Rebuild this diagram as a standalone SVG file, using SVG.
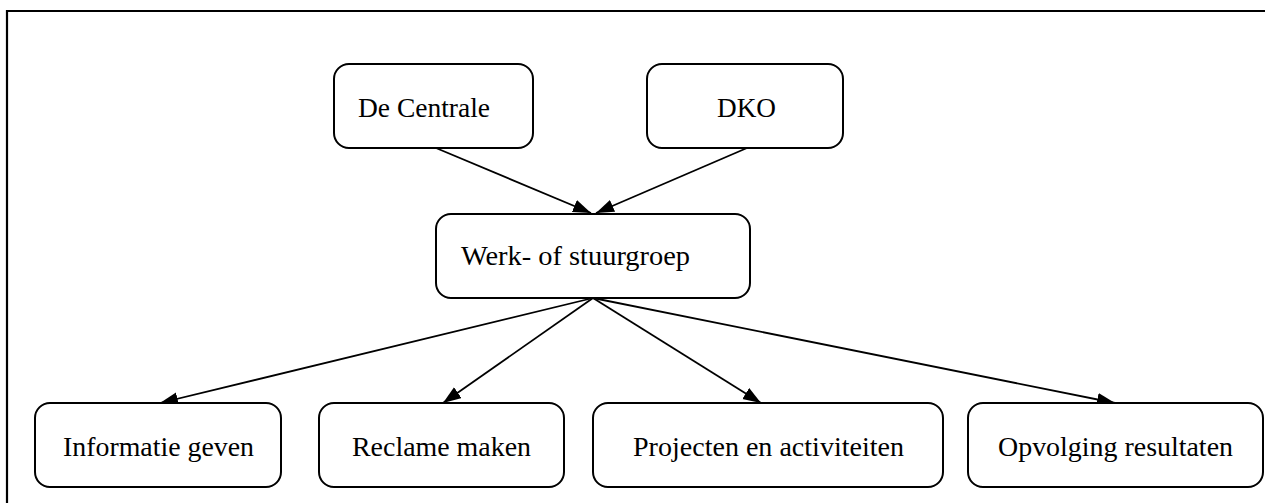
<svg xmlns="http://www.w3.org/2000/svg" width="1265" height="503" viewBox="0 0 1265 503">
<style>
.box{fill:#fff;stroke:#000;stroke-width:2}
.lbl{font-size:27px;fill:#000}
.edge{stroke:#000;stroke-width:1.8;fill:none;marker-end:url(#ah)}
</style>
<defs>
<marker id="ah" markerUnits="userSpaceOnUse" markerWidth="20" markerHeight="14" refX="18" refY="6.5" orient="auto">
<path d="M0,0 L18,6.5 L0,13 z" fill="#000"/>
</marker>
</defs>
<rect width="1265" height="503" fill="#fff"/>
<path d="M7,503 V11 H1265" fill="none" stroke="#000" stroke-width="2.2"/>
<g id="connectors">
<line class="edge" x1="436" y1="148" x2="591" y2="213"/>
<line class="edge" x1="747" y1="148" x2="596" y2="213"/>
<line class="edge" x1="593" y1="298" x2="160" y2="403"/>
<line class="edge" x1="593" y1="298" x2="443" y2="403"/>
<line class="edge" x1="593" y1="298" x2="761" y2="403"/>
<line class="edge" x1="593" y1="298" x2="1115" y2="403"/>
</g>
<g font-family="'Liberation Serif', 'DejaVu Serif', serif">
<g id="node-decentrale">
<rect class="box" x="334" y="64" width="199" height="84" rx="15"/>
<text class="lbl" x="358" y="117" textLength="132" lengthAdjust="spacingAndGlyphs">De Centrale</text>
</g>
<g id="node-dko">
<rect class="box" x="647" y="64" width="196" height="84" rx="15"/>
<text class="lbl" x="717" y="117" textLength="59" lengthAdjust="spacingAndGlyphs">DKO</text>
</g>
<g id="node-werkgroep">
<rect class="box" x="436" y="214" width="314" height="84" rx="15"/>
<text class="lbl" x="461" y="265" textLength="229" lengthAdjust="spacingAndGlyphs">Werk- of stuurgroep</text>
</g>
<g id="node-informatie">
<rect class="box" x="35" y="403" width="246" height="84" rx="15"/>
<text class="lbl" x="63" y="456" textLength="191" lengthAdjust="spacingAndGlyphs">Informatie geven</text>
</g>
<g id="node-reclame">
<rect class="box" x="319" y="403" width="245" height="84" rx="15"/>
<text class="lbl" x="352" y="456" textLength="179" lengthAdjust="spacingAndGlyphs">Reclame maken</text>
</g>
<g id="node-projecten">
<rect class="box" x="593" y="403" width="350" height="84" rx="15"/>
<text class="lbl" x="633" y="456" textLength="271" lengthAdjust="spacingAndGlyphs">Projecten en activiteiten</text>
</g>
<g id="node-opvolging">
<rect class="box" x="968" y="403" width="295" height="84" rx="15"/>
<text class="lbl" x="998" y="456" textLength="235" lengthAdjust="spacingAndGlyphs">Opvolging resultaten</text>
</g>
</g>
</svg>
